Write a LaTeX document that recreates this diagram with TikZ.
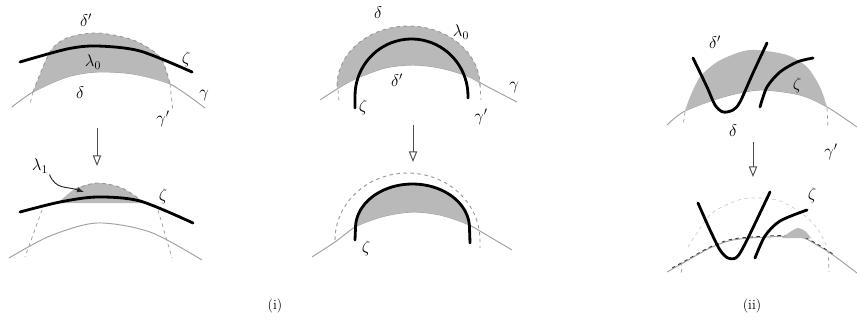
\documentclass[tikz,border=0pt]{standalone}
\usetikzlibrary{arrows.meta}
\tikzset{
  basecurve/.style={draw=gray!75, line width=0.8pt},
  thickcurve/.style={draw=black, line width=2.4pt, line cap=round},
  dashedarc/.style={draw=gray!80, dashed, line width=0.8pt},
  dashedtick/.style={draw=gray!80, dashed, line width=0.6pt},
  shaded/.style={fill=gray!55},
  marklabel/.style={font=\Large, inner sep=1pt},
  stepdown/.style={draw=gray!60!black, line width=0.8pt, -{Triangle[open,length=9pt,width=7pt]}}
}

\begin{document}
\begin{tikzpicture}[x=0.03cm,y=-0.03cm]
  \useasboundingbox (0,0) rectangle (857,324);

  % (i), upper
  \draw[basecurve] plot[smooth] coordinates {(12,107) (33,92) (67,77) (97,72) (133,74) (170,84) (205,108)};
  \fill[shaded] plot[smooth] coordinates {(33,92) (50,52) (67,38) (97,33) (133,40) (160,57) (170,84)}
    -- plot[smooth] coordinates {(170,84) (133,74) (97,72) (67,77) (33,92)} -- cycle;
  \draw[dashedarc] plot[smooth] coordinates {(33,92) (50,52) (67,38) (97,33) (133,40) (160,57) (170,84)};
  \draw[dashedtick] (33,92) -- (30,104);
  \draw[dashedtick] (170,84) -- (173,112);
  \draw[thickcurve] plot[smooth] coordinates {(20,62) (67,49) (97,46) (140,51) (192,72)};
  \node[marklabel] (dp1) at (86,20) {$\delta'$};
  \node[marklabel] (lz1) at (93,62) {$\lambda_0$};
  \node[marklabel] (d1) at (80,93) {$\delta$};
  \node[marklabel] (z1) at (186,59) {$\zeta$};
  \node[marklabel] (g1) at (204,96) {$\gamma$};
  \node[marklabel] (gp1) at (163,119) {$\gamma'$};

  \coordinate (s1top) at (97,128);
  \coordinate (s1bot) at (97,166);
  \draw[stepdown] (s1top) -- (s1bot);

  % (i), lower
  \draw[basecurve] plot[smooth] coordinates {(9,258) (50,236) (97,223) (150,232) (202,260)};
  \fill[shaded] plot[smooth] coordinates {(58,203) (75,189) (97,183) (122,188) (145,203)} -- cycle;
  \draw[dashedarc] plot[smooth] coordinates {(75,189) (97,183) (122,188) (145,203)};
  \draw[dashedtick] (42,210) -- (25,257);
  \draw[dashedtick] (158,210) -- (172,258);
  \draw[thickcurve] plot[smooth] coordinates {(20,212) (60,202) (97,197) (140,201) (193,223)};
  \node[marklabel] (l1) at (40,166) {$\lambda_1$};
  \coordinate (l1tip) at (84,192);
  \draw[gray!30!black, line width=0.8pt, -{Latex[length=6pt]}] (l1.south east) .. controls (56,190) and (66,186) .. (l1tip);
  \node[marklabel] (z2) at (163,196) {$\zeta$};

  \node[font=\large] (cap1) at (275,306) {(i)};

  % (ii) middle, upper
  \draw[basecurve] plot[smooth] coordinates {(320,100) (337,89) (355,79) (385,68) (413,65) (440,68) (467,76) (490,88) (517,102)};
  \fill[shaded] plot[domain=180:360, samples=40] ({408.5+71.5*cos(\x)}, {86+60*sin(\x)})
    -- plot[smooth] coordinates {(480,84) (467,76) (440,68) (413,65) (385,68) (355,79) (337,88)} -- cycle;
  \draw[dashedarc] plot[domain=180:360, samples=40] ({408.5+71.5*cos(\x)}, {86+60*sin(\x)});
  \draw[dashedtick] (338,90) -- (339,101);
  \draw[dashedtick] (480,84) -- (481,100);
  \draw[thickcurve] (355,108) -- plot[domain=180:360, samples=40] ({411.5+56.5*cos(\x)}, {96+57*sin(\x)}) -- (468,98);
  \node[marklabel] (d2) at (378,13) {$\delta$};
  \node[marklabel] (lz2) at (461,32) {$\lambda_0$};
  \node[marklabel] (dp2) at (397,80) {$\delta'$};
  \node[marklabel] (z3) at (363,107) {$\zeta$};
  \node[marklabel] (g2) at (514,88) {$\gamma$};
  \node[marklabel] (gp2) at (481,117) {$\gamma'$};

  \coordinate (s2top) at (413,125);
  \coordinate (s2bot) at (413,162);
  \draw[stepdown] (s2top) -- (s2bot);

  % (ii) middle, lower
  \draw[basecurve] plot[smooth] coordinates {(312,257) (335,242) (357,226) (385,216) (413,212) (440,215) (467,224) (490,237) (512,250)};
  \fill[shaded] plot[domain=185:355, samples=40] ({412.5+57*cos(\x)}, {228+44*sin(\x)})
    -- plot[smooth] coordinates {(467,224) (440,215) (413,212) (385,216) (357,226)} -- cycle;
  \draw[dashedarc] plot[domain=180:360, samples=40] ({407.5+72.5*cos(\x)}, {240+67*sin(\x)}) -- (480,248);
  \draw[thickcurve] (355,240) -- plot[domain=180:360, samples=40] ({412.5+57*cos(\x)}, {228+44*sin(\x)}) -- (470,243);
  \node[marklabel] (z4) at (366,248) {$\zeta$};

  % (ii) right, upper
  \draw[basecurve] plot[smooth] coordinates {(667,125) (685,111) (723,97) (760,90) (800,95) (827,107) (857,127)};
  \fill[shaded] plot[smooth] coordinates {(685,111) (690,97) (700,77) (717,62) (740,52) (757,50) (787,55) (807,67) (820,87) (827,107)}
    -- plot[smooth] coordinates {(827,107) (800,95) (760,90) (723,97) (685,111)} -- cycle;
  \draw[dashedtick] (685,112) -- (683,126);
  \draw[dashedtick] (827,108) -- (828,128);
  \draw[thickcurve] plot[smooth] coordinates {(693,58) (707,87) (715,105) (723,112) (733,110) (740,102) (753,73) (767,43)};
  \draw[thickcurve] plot[smooth] coordinates {(760,107) (767,87) (780,72) (797,62) (813,58)};
  \node[marklabel] (dp3) at (715,42) {$\delta'$};
  \node[marklabel] (z5) at (797,85) {$\zeta$};
  \node[marklabel] (d3) at (733,131) {$\delta$};
  \node[marklabel] (gp3) at (831,152) {$\gamma'$};

  \coordinate (s3top) at (753,142);
  \coordinate (s3bot) at (753,177);
  \draw[stepdown] (s3top) -- (s3bot);

  % (ii) right, lower
  \draw[draw=gray!40, dashed, line width=0.6pt] plot[smooth] coordinates {(688,247) (710,215) (733,202) (750,198) (777,200) (800,212) (817,228) (827,247)};
  \draw[basecurve] plot[smooth] coordinates {(667,272) (683,263) (710,248) (733,240) (767,237) (800,237) (817,245) (833,255) (857,273)};
  \draw[gray!40!black, dashed, line width=0.7pt] plot[smooth] coordinates {(672,268) (683,262) (710,247) (733,239) (767,236) (800,236) (817,244) (833,254)};
  \fill[shaded] plot[smooth] coordinates {(782,238) (790,232) (798,228) (805,231) (811,238)} -- cycle;
  \draw[dashedtick] (682,262) -- (681,276);
  \draw[dashedtick] (828,250) -- (829,272);
  \draw[thickcurve] plot[smooth] coordinates {(698,203) (710,230) (720,250) (728,258) (737,257) (747,240) (770,192)};
  \draw[thickcurve] plot[smooth] coordinates {(755,258) (765,236) (780,221) (807,210)};
  \node[marklabel] (z6) at (812,195) {$\zeta$};

  \node[font=\large] (cap2) at (752,306) {(ii)};
\end{tikzpicture}
\end{document}
